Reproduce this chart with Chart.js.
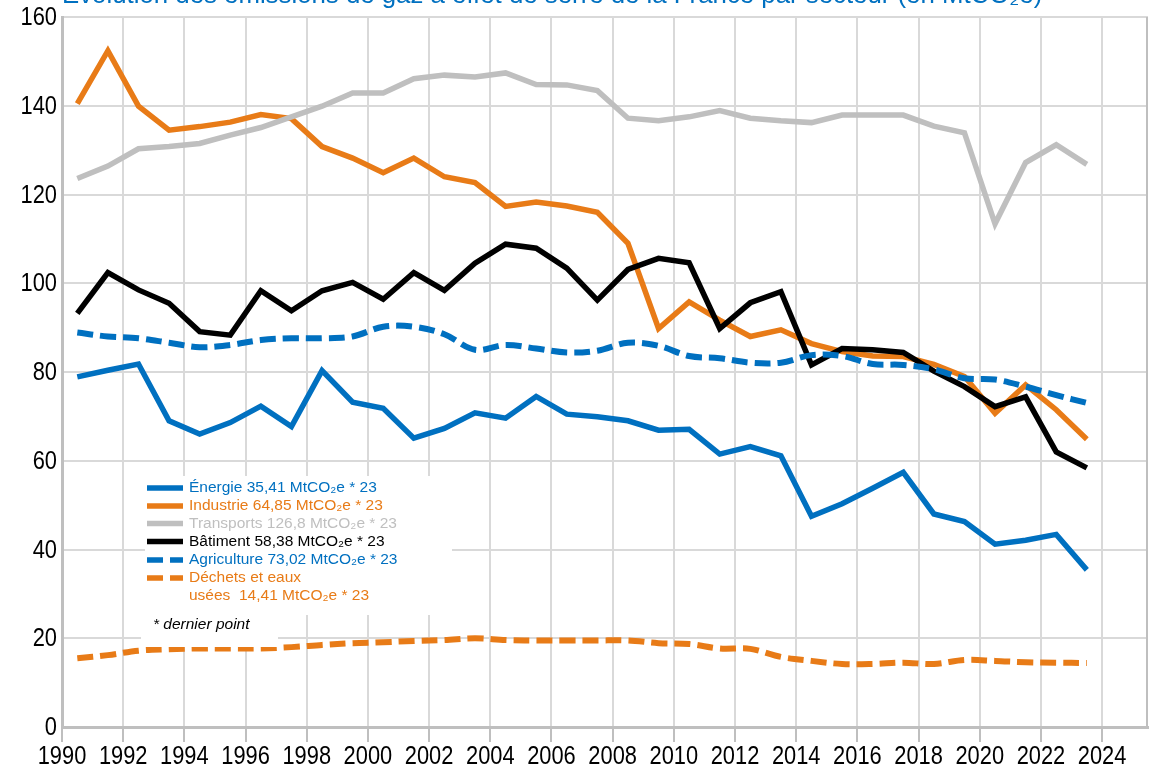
<!DOCTYPE html>
<html lang="fr">
<head>
<meta charset="utf-8">
<title>Émissions de gaz à effet de serre par secteur</title>
<script src="https://cdn.jsdelivr.net/npm/chart.js@4"></script>
<style>
  html, body { margin: 0; padding: 0; background: #ffffff; overflow: hidden; }
  #wrap { width: 1149px; height: 765px; position: relative; }
</style>
</head>
<body>
<div id="wrap"><canvas id="chart"></canvas></div>
<script>
// Emissions par secteur, en MtCO2e (valeurs annuelles, point placé en milieu d'année)
const years = [1990, 1991, 1992, 1993, 1994, 1995, 1996, 1997, 1998, 1999,
               2000, 2001, 2002, 2003, 2004, 2005, 2006, 2007, 2008, 2009,
               2010, 2011, 2012, 2013, 2014, 2015, 2016, 2017, 2018, 2019,
               2020, 2021, 2022, 2023];

const energie = [78.9, 80.4, 81.8, 69.0, 66.0, 68.6, 72.3, 67.7, 80.3, 73.2,
                 71.8, 65.1, 67.3, 70.8, 69.6, 74.5, 70.5, 69.9, 69.0, 66.9,
                 67.1, 61.5, 63.2, 61.1, 47.5, 50.3, 53.8, 57.4, 48.0, 46.3,
                 41.2, 42.1, 43.4, 35.41];

const industrie = [140.5, 152.4, 139.9, 134.5, 135.3, 136.3, 138.0, 137.1, 130.8, 128.2,
                   124.9, 128.2, 124.0, 122.7, 117.3, 118.3, 117.4, 116.0, 109.0, 89.8,
                   95.8, 91.7, 88.0, 89.5, 86.4, 84.6, 83.6, 83.5, 81.7, 79.0,
                   70.7, 77.1, 71.5, 64.85];

const transports = [123.6, 126.4, 130.3, 130.8, 131.5, 133.4, 135.1, 137.5, 139.9, 142.9,
                    142.9, 146.1, 146.9, 146.5, 147.4, 144.8, 144.7, 143.4, 137.2, 136.6,
                    137.5, 138.9, 137.2, 136.6, 136.2, 137.9, 137.9, 137.9, 135.4, 133.9,
                    113.4, 127.2, 131.2, 126.8];

const batiment = [93.2, 102.4, 98.5, 95.5, 89.1, 88.3, 98.3, 93.8, 98.3, 100.2,
                  96.4, 102.4, 98.4, 104.5, 108.8, 107.9, 103.4, 96.2, 103.1, 105.6,
                  104.6, 89.8, 95.6, 98.1, 81.6, 85.3, 85.0, 84.4, 80.2, 76.7,
                  72.2, 74.4, 62.0, 58.38];

const agriculture = [88.9, 88.0, 87.6, 86.6, 85.6, 86.1, 87.2, 87.6, 87.6, 88.0,
                     90.2, 90.2, 88.5, 85.0, 86.1, 85.3, 84.4, 84.8, 86.6, 85.9,
                     83.6, 83.1, 82.1, 82.1, 83.8, 83.6, 81.8, 81.6, 80.6, 78.6,
                     78.3, 76.7, 74.8, 73.02];

const dechets = [15.5, 16.2, 17.2, 17.5, 17.7, 17.7, 17.7, 18.0, 18.5, 18.9,
                 19.1, 19.4, 19.6, 20.0, 19.6, 19.5, 19.5, 19.5, 19.5, 18.9,
                 18.7, 17.7, 17.6, 15.8, 14.9, 14.2, 14.2, 14.5, 14.2, 15.1,
                 14.9, 14.6, 14.5, 14.41];

const sectorNames = ['Énergie', 'Industrie', 'Transports', 'Bâtiment', 'Agriculture', 'Déchets et eaux\nusées '];
const xTickYears = [1990, 1992, 1994, 1996, 1998, 2000, 2002, 2004, 2006, 2008, 2010,
                    2012, 2014, 2016, 2018, 2020, 2022, 2024];
const yTickValues = [0, 20, 40, 60, 80, 100, 120, 140, 160];

const titleText = 'Évolution des émissions de gaz à effet de serre de la France par secteur (en MtCO₂e)';
const lastYearShort = '23';
const footnote = '* dernier point';

const BLUE = '#0070C0';
const ORANGE = '#E87B17';
const GREY = '#BFBFBF';
const BLACK = '#000000';
const GRID = '#D9D9D9';
const AXIS = '#BFBFBF';

const TEXT_FONT = "'Liberation Sans', Arial, sans-serif";
// Axis numbers use a condensed look: Liberation Sans squeezed horizontally
const AXIS_FONT_SIZE = 26;
const AXIS_SQUEEZE = 0.84;

// Points sit in the middle of each year
const toPoints = arr => arr.map((v, i) => ({ x: years[i] + 0.5, y: v }));

const seriesDefs = [
  { data: energie,     color: BLUE,   dash: [],      smooth: false },
  { data: industrie,   color: ORANGE, dash: [],      smooth: false },
  { data: transports,  color: GREY,   dash: [],      smooth: false },
  { data: batiment,    color: BLACK,  dash: [],      smooth: false },
  { data: agriculture, color: BLUE,   dash: [16, 7], smooth: true },
  { data: dechets,     color: ORANGE, dash: [16, 7], smooth: true }
];

const datasets = seriesDefs.map((s, i) => ({
  label: sectorNames[i],
  data: toPoints(s.data),
  borderColor: s.color,
  backgroundColor: s.color,
  borderWidth: s.dash.length ? 6 : 5.5,
  borderDash: s.dash,
  borderCapStyle: 'butt',
  borderJoinStyle: 'miter',
  tension: s.smooth ? 0.35 : 0,
  pointRadius: 0,
  fill: false,
  order: seriesDefs.length - i
}));

const fmt = v => String(v).replace('.', ',');

function squeezedText(ctx, text, x, y, align) {
  ctx.save();
  ctx.translate(x, y);
  ctx.scale(AXIS_SQUEEZE, 1);
  ctx.textAlign = align;
  ctx.fillText(text, 0, 0);
  ctx.restore();
}

// Title (partly above the canvas top), right border, axis numbers and the in-plot legend box
const decorations = {
  id: 'decorations',
  beforeDatasetsDraw(chart) {
    const { ctx, chartArea: a } = chart;
    ctx.save();
    ctx.strokeStyle = AXIS;
    ctx.lineWidth = 2;
    ctx.beginPath();
    ctx.moveTo(a.right - 1, a.top);
    ctx.lineTo(a.right - 1, a.bottom);
    ctx.stroke();
    ctx.restore();
  },
  afterDraw(chart) {
    const { ctx, scales } = chart;
    ctx.save();

    // axis numbers
    ctx.fillStyle = '#000000';
    ctx.font = `${AXIS_FONT_SIZE}px ${TEXT_FONT}`;
    ctx.textBaseline = 'alphabetic';
    scales.x.ticks.forEach(t => {
      squeezedText(ctx, String(t.value), scales.x.getPixelForValue(t.value), 764, 'center');
    });
    ctx.textBaseline = 'middle';
    scales.y.ticks.forEach(t => {
      squeezedText(ctx, String(t.value), 57, scales.y.getPixelForValue(t.value) + 1, 'right');
    });

    // title
    let size = 22;
    ctx.font = `${size}px ${TEXT_FONT}`;
    const w = ctx.measureText(titleText).width;
    size = size * 981 / w;
    ctx.font = `${size}px ${TEXT_FONT}`;
    ctx.fillStyle = BLUE;
    ctx.textBaseline = 'alphabetic';
    ctx.textAlign = 'left';
    ctx.fillText(titleText, 62, 3);

    // legend boxes
    ctx.fillStyle = '#ffffff';
    ctx.fillRect(145, 476, 307, 139);
    ctx.fillRect(141, 611, 137, 36);

    const rows = [488, 506, 523.5, 541.5, 560, 578];
    const lineH = 18;
    ctx.font = `15.5px ${TEXT_FONT}`;
    ctx.textBaseline = 'middle';
    datasets.forEach((ds, i) => {
      const y = rows[i];
      ctx.strokeStyle = ds.borderColor;
      ctx.lineWidth = 5.5;
      ctx.setLineDash(ds.borderDash);
      ctx.lineCap = 'butt';
      ctx.beginPath();
      ctx.moveTo(147, y);
      ctx.lineTo(183, y);
      ctx.stroke();
      ctx.setLineDash([]);

      const values = seriesDefs[i].data;
      const text = `${ds.label} ${fmt(values[values.length - 1])} MtCO₂e * ${lastYearShort}`;
      ctx.fillStyle = ds.borderColor;
      text.split('\n').forEach((line, k) => {
        ctx.fillText(line, 189, y + k * lineH);
      });
    });

    ctx.font = `italic 15.5px ${TEXT_FONT}`;
    ctx.fillStyle = BLACK;
    ctx.fillText(footnote, 153, 625);
    ctx.restore();
  }
};

new Chart(document.getElementById('chart'), {
  type: 'line',
  data: { datasets },
  plugins: [decorations],
  options: {
    responsive: true,
    maintainAspectRatio: false,
    animation: false,
    events: [],
    layout: { padding: { top: 17, right: 1, left: 0, bottom: 0 } },
    plugins: {
      legend: { display: false },
      tooltip: { enabled: false },
      title: { display: false }
    },
    scales: {
      x: {
        type: 'linear',
        min: 1990,
        max: 2025.5,
        afterBuildTicks: axis => { axis.ticks = xTickYears.map(v => ({ value: v })); },
        afterFit: axis => { axis.height = 38; },
        grid: {
          color: GRID,
          lineWidth: 2,
          drawTicks: true,
          tickLength: 15,
          tickColor: AXIS,
          tickWidth: 2
        },
        border: { display: true, color: AXIS, width: 3 },
        ticks: { display: false }
      },
      y: {
        type: 'linear',
        min: 0,
        max: 160,
        afterBuildTicks: axis => { axis.ticks = yTickValues.map(v => ({ value: v })); },
        afterFit: axis => { axis.width = 62; },
        grid: { color: GRID, lineWidth: 2, drawTicks: false },
        border: { display: true, color: AXIS, width: 3 },
        ticks: { display: false }
      }
    }
  }
});
</script>
</body>
</html>
